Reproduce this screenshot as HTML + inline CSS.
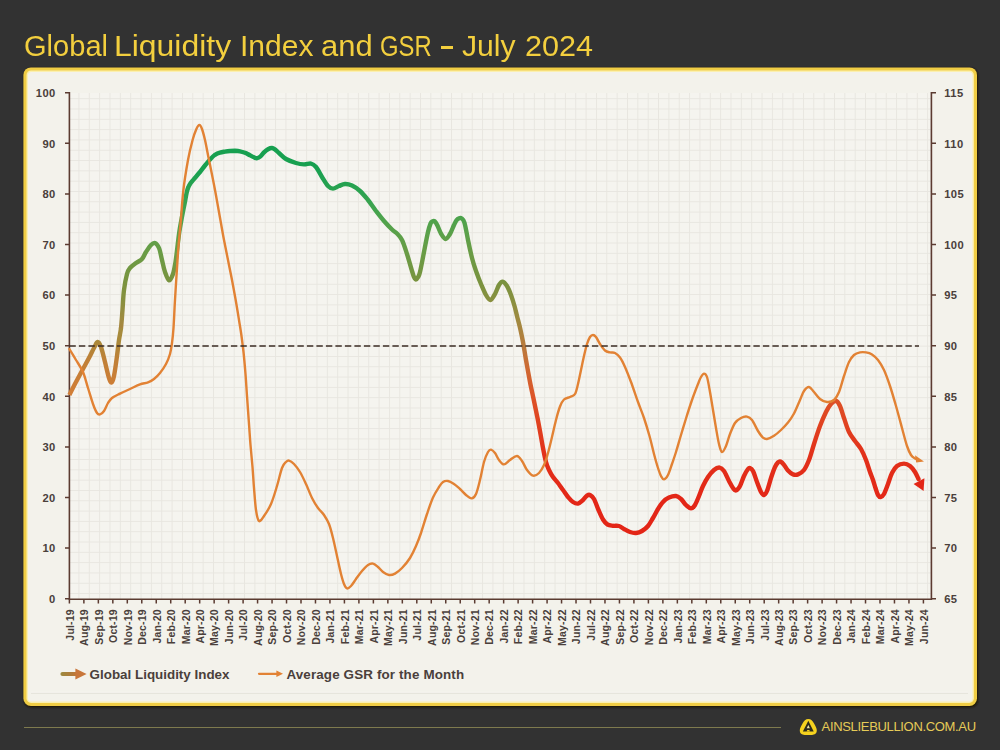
<!DOCTYPE html>
<html><head><meta charset="utf-8"><title>Global Liquidity Index and GSR</title>
<style>
html,body{margin:0;padding:0}
body{width:1000px;height:750px;background:#323232;position:relative;overflow:hidden;font-family:"Liberation Sans",sans-serif}
#title{position:absolute;left:0;top:30px;font-size:28.6px;line-height:32px;color:#f3cf3e;white-space:nowrap}
#title span{position:absolute;top:0;transform-origin:0 0}
#title i{position:absolute;left:440.6px;top:16.4px;width:12px;height:2.4px;background:#f3cf3e}
#fline{position:absolute;left:24px;top:726.8px;width:757px;height:1.4px;background:#7e7a4e}
#brand{position:absolute;left:821.6px;top:719px;font-size:13px;line-height:16px;color:#e6cb58;letter-spacing:-0.33px;white-space:nowrap}
svg{position:absolute;left:0;top:0}
</style></head><body>
<div id="title"><span style="left:23.80px;transform:scaleX(1.0170)">Global</span><span style="left:114.10px;transform:scaleX(1.1168)">Liquidity</span><span style="left:239.80px;transform:scaleX(1.0508)">Index</span><span style="left:321.00px;transform:scaleX(1.0827)">and</span><span style="left:379.75px;transform:scaleX(0.8331)">GSR</span><span style="left:462.00px;transform:scaleX(1.0547)">July</span><span style="left:525.00px;transform:scaleX(1.0694)">2024</span><i></i></div>
<div id="fline"></div>
<svg width="1000" height="750" viewBox="0 0 1000 750">
<filter id="sh" x="-5%" y="-5%" width="110%" height="110%"><feGaussianBlur stdDeviation="0.9"/></filter>
<rect x="24" y="68.2" width="954" height="639" rx="7.5" fill="#1c1606" filter="url(#sh)"/>
<rect x="23.4" y="67.4" width="953.6" height="638.6" rx="7.5" fill="#f0cd45"/>
<rect x="26.5" y="70.5" width="947.4" height="632.4" rx="4.6" fill="#fbf0b0"/>
<rect x="27.9" y="71.9" width="944.6" height="629.6" rx="3.6" fill="#f3f2eb"/>
<path d="M31 692.4H968" stroke="#f8f7f2" stroke-width="1"/>
<path d="M31 693.3H968" stroke="#e3e1d9" stroke-width="1"/>
<defs>
<pattern id="grid" x="68.1" y="87.9" width="10.35" height="10.31" patternUnits="userSpaceOnUse"><path d="M0 0.5H10.35M0.5 0V10.31" stroke="#e8e6e0" stroke-width="1" fill="none"/></pattern>
<linearGradient id="gB" gradientUnits="userSpaceOnUse" x1="0" y1="93" x2="0" y2="599">
<stop offset="0.0000" stop-color="#14a050"/>
<stop offset="0.1522" stop-color="#18a050"/>
<stop offset="0.2016" stop-color="#2ea350"/>
<stop offset="0.2510" stop-color="#4fa34c"/>
<stop offset="0.3103" stop-color="#689d46"/>
<stop offset="0.3696" stop-color="#78933f"/>
<stop offset="0.4091" stop-color="#88903f"/>
<stop offset="0.4486" stop-color="#a08a40"/>
<stop offset="0.5000" stop-color="#b97a3c"/>
<stop offset="0.5474" stop-color="#cf6832"/>
<stop offset="0.5968" stop-color="#dc5529"/>
<stop offset="0.6462" stop-color="#e04421"/>
<stop offset="0.7055" stop-color="#e2331b"/>
<stop offset="0.8043" stop-color="#e32617"/>
<stop offset="1.0000" stop-color="#e32415"/>
</linearGradient>
<linearGradient id="gA" gradientUnits="userSpaceOnUse" x1="0" y1="93" x2="0" y2="599">
<stop offset="0.0000" stop-color="#14a050"/>
<stop offset="0.4091" stop-color="#8c9342"/>
<stop offset="0.4644" stop-color="#a48c3e"/>
<stop offset="0.4921" stop-color="#aa8839"/>
<stop offset="0.5277" stop-color="#c08037"/>
<stop offset="0.5711" stop-color="#cc7e36"/>
<stop offset="0.5968" stop-color="#d17d36"/>
<stop offset="1.0000" stop-color="#d17d36"/>
</linearGradient>
<linearGradient id="gL" gradientUnits="userSpaceOnUse" x1="60" y1="0" x2="80" y2="0"><stop offset="0" stop-color="#9a8a3e"/><stop offset="0.55" stop-color="#b07c3a"/><stop offset="1" stop-color="#cc7434"/></linearGradient>
</defs>
<rect x="70" y="93" width="861" height="506" fill="#f5f4ef"/>
<rect x="70" y="93" width="861" height="506" fill="url(#grid)"/>
<path d="M69.4 92H69.4V599.2H931.4V92" stroke="#5b3b31" stroke-width="1.6" fill="none"/>
<path d="M65 92.7H69.4M931.4 92.7H936M65 143.3H69.4M931.4 143.3H936M65 193.9H69.4M931.4 193.9H936M65 244.5H69.4M931.4 244.5H936M65 295.1H69.4M931.4 295.1H936M65 345.7H69.4M931.4 345.7H936M65 396.3H69.4M931.4 396.3H936M65 446.9H69.4M931.4 446.9H936M65 497.5H69.4M931.4 497.5H936M65 548.1H69.4M931.4 548.1H936M65 598.7H69.4M931.4 598.7H936M69.4 599.2V603.6M83.88 599.2V603.6M98.35 599.2V603.6M112.83 599.2V603.6M127.3 599.2V603.6M141.78 599.2V603.6M156.25 599.2V603.6M170.73 599.2V603.6M185.2 599.2V603.6M199.68 599.2V603.6M214.15 599.2V603.6M228.62 599.2V603.6M243.1 599.2V603.6M257.57 599.2V603.6M272.05 599.2V603.6M286.52 599.2V603.6M301 599.2V603.6M315.48 599.2V603.6M329.95 599.2V603.6M344.42 599.2V603.6M358.9 599.2V603.6M373.38 599.2V603.6M387.85 599.2V603.6M402.33 599.2V603.6M416.8 599.2V603.6M431.27 599.2V603.6M445.75 599.2V603.6M460.23 599.2V603.6M474.7 599.2V603.6M489.17 599.2V603.6M503.65 599.2V603.6M518.12 599.2V603.6M532.6 599.2V603.6M547.08 599.2V603.6M561.55 599.2V603.6M576.02 599.2V603.6M590.5 599.2V603.6M604.97 599.2V603.6M619.45 599.2V603.6M633.92 599.2V603.6M648.4 599.2V603.6M662.88 599.2V603.6M677.35 599.2V603.6M691.82 599.2V603.6M706.3 599.2V603.6M720.77 599.2V603.6M735.25 599.2V603.6M749.72 599.2V603.6M764.2 599.2V603.6M778.67 599.2V603.6M793.15 599.2V603.6M807.62 599.2V603.6M822.1 599.2V603.6M836.57 599.2V603.6M851.05 599.2V603.6M865.52 599.2V603.6M880 599.2V603.6M894.47 599.2V603.6M908.95 599.2V603.6M923.42 599.2V603.6" stroke="#5b3b31" stroke-width="1.5" fill="none"/>
<path d="M121.0 328.0C121.6 323.0 122.0 316.3 122.5 310.0C123.0 303.7 123.2 296.0 124.0 290.0C124.8 284.0 126.0 277.7 127.0 274.0C128.0 270.3 128.5 269.8 130.0 268.0C131.5 266.2 134.0 264.5 136.0 263.0C138.0 261.5 140.3 260.8 142.0 259.0C143.7 257.2 144.5 254.3 146.0 252.0C147.5 249.7 149.5 246.5 151.0 245.0C152.5 243.5 153.7 242.5 155.0 243.0C156.3 243.5 157.8 245.2 159.0 248.0C160.2 250.8 161.0 256.0 162.0 260.0C163.0 264.0 163.8 268.6 165.0 272.0C166.2 275.4 167.7 280.1 169.0 280.4C170.3 280.7 171.9 277.1 173.0 274.0C174.1 270.9 174.8 266.3 175.5 262.0C176.2 257.7 176.7 253.0 177.3 248.0C177.9 243.0 178.6 236.7 179.3 232.0C180.0 227.3 180.7 223.8 181.4 220.0C182.1 216.2 182.8 212.3 183.5 209.0C184.2 205.7 184.8 202.7 185.3 200.0C185.8 197.3 186.1 195.1 186.6 193.0C187.1 190.9 187.5 189.1 188.2 187.5C188.8 185.9 189.6 184.5 190.5 183.2C191.4 181.9 191.9 181.5 193.5 179.6C195.1 177.7 198.1 174.3 200.0 172.0C201.9 169.7 203.3 167.6 205.0 165.5C206.7 163.4 208.3 161.3 210.0 159.5C211.7 157.7 213.3 156.0 215.0 154.8C216.7 153.7 218.3 153.1 220.0 152.6C221.7 152.1 223.3 151.9 225.0 151.6C226.7 151.3 228.3 151.1 230.0 151.0C231.7 150.9 233.3 150.8 235.0 150.8C236.7 150.9 238.3 151.0 240.0 151.3C241.7 151.6 243.3 152.1 245.0 152.8C246.7 153.5 248.5 154.6 250.0 155.3C251.5 156.1 252.8 156.8 254.0 157.3C255.2 157.8 255.9 158.3 257.0 158.2C258.1 158.0 259.3 157.4 260.5 156.4C261.7 155.4 262.8 153.6 264.0 152.4C265.2 151.2 266.7 149.9 268.0 149.2C269.3 148.5 270.8 147.9 272.0 148.0C273.2 148.1 274.3 149.0 275.5 149.8C276.7 150.6 277.2 151.5 279.0 153.0C280.8 154.5 283.2 157.3 286.0 159.0C288.8 160.7 293.0 162.1 296.0 163.0C299.0 163.9 301.5 164.3 304.0 164.4C306.5 164.5 309.0 163.2 311.0 163.6C313.0 164.0 314.2 164.8 316.0 167.0C317.8 169.2 320.0 173.8 322.0 177.0C324.0 180.2 326.2 184.1 328.0 186.0C329.8 187.9 331.2 188.6 333.0 188.6C334.8 188.6 337.0 186.8 339.0 186.0C341.0 185.2 342.8 184.1 345.0 184.0C347.2 183.9 349.5 184.4 352.0 185.6C354.5 186.8 357.3 188.6 360.0 191.0C362.7 193.4 365.3 196.7 368.0 200.0C370.7 203.3 373.3 207.5 376.0 211.0C378.7 214.5 381.3 217.9 384.0 221.0C386.7 224.1 389.8 227.4 392.0 229.5C394.2 231.6 395.3 231.8 397.0 233.5C398.7 235.2 400.3 236.6 402.0 240.0C403.7 243.4 405.3 248.8 407.0 254.0C408.7 259.2 410.8 267.2 412.0 271.0C413.2 274.8 413.3 275.6 414.0 277.0C414.7 278.4 415.3 279.6 416.0 279.6C416.7 279.6 417.3 278.5 418.0 277.2C418.7 275.9 419.0 276.2 420.0 272.0C421.0 267.8 422.7 258.7 424.0 252.0C425.3 245.3 426.9 236.7 428.0 232.0C429.1 227.3 429.8 225.4 430.5 223.6C431.2 221.8 431.8 221.7 432.5 221.3C433.2 220.9 434.0 220.7 434.8 221.3C435.6 222.0 436.3 223.1 437.3 225.2C438.3 227.2 439.6 231.3 441.0 233.6C442.4 235.9 444.1 238.9 445.6 239.0C447.1 239.1 448.6 236.3 450.0 234.0C451.4 231.7 452.9 227.3 454.0 225.0C455.1 222.7 455.7 221.3 456.5 220.2C457.3 219.1 458.1 218.6 459.0 218.3C459.9 218.0 460.7 217.7 461.6 218.4C462.5 219.2 463.4 219.2 464.5 222.8C465.6 226.4 466.8 234.1 468.0 240.0C469.2 245.9 470.7 252.8 472.0 258.0C473.3 263.2 474.5 266.7 476.0 271.0C477.5 275.3 479.3 280.0 481.0 284.0C482.7 288.0 484.4 292.3 486.0 295.0C487.6 297.7 488.9 300.2 490.4 300.0C491.9 299.8 493.6 296.5 495.0 294.0C496.4 291.5 497.7 287.1 499.0 285.0C500.3 282.9 501.3 281.4 502.6 281.6C503.9 281.8 505.6 283.8 507.0 286.0C508.4 288.2 509.8 291.7 511.0 295.0C512.2 298.3 513.4 302.2 514.5 306.0C515.6 309.8 516.5 314.2 517.5 318.0C518.5 321.8 519.4 325.0 520.3 329.0C521.2 333.0 522.0 336.8 523.0 342.0C524.0 347.2 524.8 353.3 526.0 360.0C527.2 366.7 528.7 375.2 530.0 382.0C531.3 388.8 532.8 395.0 534.0 401.0C535.2 407.0 536.4 412.5 537.5 418.0C538.6 423.5 539.6 429.0 540.5 434.0C541.4 439.0 542.1 443.3 543.0 448.0C543.9 452.7 545.0 458.3 546.0 462.0C547.0 465.7 547.8 467.5 549.0 470.0C550.2 472.5 551.5 474.8 553.0 477.0C554.5 479.2 556.3 480.8 558.0 483.0C559.7 485.2 561.3 487.7 563.0 490.0C564.7 492.3 566.3 495.0 568.0 497.0C569.7 499.0 571.3 500.9 573.0 502.0C574.7 503.1 576.3 503.9 578.0 503.6C579.7 503.3 581.5 501.3 583.0 500.0C584.5 498.7 585.8 496.4 587.0 495.6C588.2 494.8 588.8 494.4 590.0 495.0C591.2 495.6 592.6 496.5 594.0 499.0C595.4 501.5 597.0 506.6 598.5 510.0C600.0 513.4 601.5 517.1 603.0 519.5C604.5 521.9 605.8 523.5 607.5 524.5C609.2 525.5 611.1 525.5 613.0 525.8C614.9 526.0 617.2 525.5 619.0 526.0C620.8 526.5 622.2 528.0 624.0 529.0C625.8 530.0 628.0 531.3 630.0 532.0C632.0 532.7 634.0 533.2 636.0 533.0C638.0 532.8 640.0 532.2 642.0 531.0C644.0 529.8 646.2 528.2 648.0 526.0C649.8 523.8 651.3 520.8 653.0 518.0C654.7 515.2 656.3 511.7 658.0 509.0C659.7 506.3 661.2 503.9 663.0 502.0C664.8 500.1 666.8 498.6 669.0 497.6C671.2 496.6 674.0 495.8 676.0 496.0C678.0 496.2 679.3 497.5 681.0 499.0C682.7 500.5 684.3 503.4 686.0 505.0C687.7 506.6 689.5 508.4 691.0 508.4C692.5 508.4 693.7 507.1 695.0 505.0C696.3 502.9 697.7 499.2 699.0 496.0C700.3 492.8 701.5 489.2 703.0 486.0C704.5 482.8 706.2 479.7 708.0 477.0C709.8 474.3 712.1 471.6 714.0 470.0C715.9 468.4 717.9 467.4 719.6 467.6C721.3 467.8 722.4 468.8 724.0 471.0C725.6 473.2 727.5 478.2 729.0 481.0C730.5 483.8 731.8 486.4 733.0 488.0C734.2 489.6 734.8 490.7 736.0 490.4C737.2 490.1 738.7 488.4 740.0 486.0C741.3 483.6 742.7 478.8 744.0 476.0C745.3 473.2 747.0 470.3 748.0 469.0C749.0 467.7 749.2 467.7 750.0 468.0C750.8 468.3 751.8 468.7 753.0 471.0C754.2 473.3 755.7 478.5 757.0 482.0C758.3 485.5 759.8 489.8 761.0 492.0C762.2 494.2 763.0 495.2 764.0 495.0C765.0 494.8 765.8 493.8 767.0 491.0C768.2 488.2 769.7 482.0 771.0 478.0C772.3 474.0 773.8 469.6 775.0 467.0C776.2 464.4 777.1 463.3 778.0 462.4C778.9 461.5 779.6 461.2 780.6 461.6C781.6 462.0 782.8 463.3 784.0 464.8C785.2 466.3 786.5 468.9 788.0 470.5C789.5 472.1 791.3 473.8 793.0 474.4C794.7 475.0 796.2 475.1 798.0 474.4C799.8 473.7 802.2 472.4 804.0 470.0C805.8 467.6 807.3 464.3 809.0 460.0C810.7 455.7 812.2 449.7 814.0 444.0C815.8 438.3 818.0 431.3 820.0 426.0C822.0 420.7 824.2 415.7 826.0 412.0C827.8 408.3 829.3 405.8 831.0 404.0C832.7 402.2 834.5 400.7 836.0 401.0C837.5 401.3 838.7 403.2 840.0 406.0C841.3 408.8 842.5 413.7 844.0 418.0C845.5 422.3 847.2 428.2 849.0 432.0C850.8 435.8 853.0 438.2 855.0 441.0C857.0 443.8 859.2 445.8 861.0 449.0C862.8 452.2 864.5 456.2 866.0 460.0C867.5 463.8 868.8 468.7 870.0 472.0C871.2 475.3 872.1 477.3 873.0 480.0C873.9 482.7 874.7 485.5 875.5 488.0C876.3 490.5 877.1 493.5 878.0 495.0C878.9 496.5 879.6 497.2 880.6 497.0C881.6 496.8 882.8 496.2 884.0 494.0C885.2 491.8 886.7 487.5 888.0 484.0C889.3 480.5 890.5 476.0 892.0 473.0C893.5 470.0 895.0 467.6 897.0 466.0C899.0 464.4 901.8 463.6 904.0 463.6C906.2 463.6 908.2 464.6 910.0 466.0C911.8 467.4 913.6 469.8 915.0 472.0C916.4 474.2 917.9 477.8 918.5 479.0" stroke="url(#gB)" stroke-width="4.4" fill="none" stroke-linecap="round" stroke-linejoin="round"/>
<path d="M69.4 395.0C70.5 392.8 73.7 386.3 76.0 382.0C78.3 377.7 80.7 373.3 83.0 369.0C85.3 364.7 88.2 359.5 90.0 356.0C91.8 352.5 92.7 350.3 94.0 348.0C95.3 345.7 96.4 342.2 97.6 342.0C98.8 341.8 99.8 343.7 101.0 347.0C102.2 350.3 103.7 356.8 105.0 362.0C106.3 367.2 107.9 374.6 109.0 378.0C110.1 381.4 110.8 382.7 111.6 382.4C112.4 382.1 113.1 380.4 114.0 376.0C114.9 371.6 116.2 362.0 117.0 356.0C117.8 350.0 118.3 344.7 119.0 340.0C119.7 335.3 120.4 333.0 121.0 328.0" stroke="url(#gA)" stroke-width="4.4" fill="none" stroke-linecap="butt" stroke-linejoin="round"/>
<path d="M913.6 484L924.4 478.2L923.6 491Z" fill="#e32617"/>
<path d="M69.4 349.0C70.5 350.8 73.7 356.2 76.0 360.0C78.3 363.8 81.0 367.3 83.0 372.0C85.0 376.7 86.3 382.7 88.0 388.0C89.7 393.3 91.5 399.8 93.0 404.0C94.5 408.2 95.8 411.3 97.0 413.0C98.2 414.7 98.8 414.7 100.0 414.4C101.2 414.1 102.7 412.9 104.0 411.0C105.3 409.1 106.7 405.2 108.0 403.0C109.3 400.8 110.0 399.6 112.0 398.0C114.0 396.4 117.0 395.1 120.0 393.6C123.0 392.1 126.7 390.5 130.0 389.0C133.3 387.5 137.0 385.5 140.0 384.4C143.0 383.3 145.7 383.3 148.0 382.4C150.3 381.5 152.0 380.6 154.0 379.0C156.0 377.4 158.0 375.5 160.0 373.0C162.0 370.5 164.3 367.2 166.0 364.0C167.7 360.8 169.0 357.5 170.0 354.0C171.0 350.5 171.4 347.3 172.0 343.0C172.6 338.7 173.0 335.2 173.5 328.0C174.0 320.8 174.4 310.0 175.0 300.0C175.6 290.0 176.4 277.0 177.0 268.0C177.6 259.0 177.9 253.5 178.5 246.0C179.1 238.5 179.8 232.3 180.6 223.0C181.4 213.7 182.2 200.5 183.4 190.0C184.6 179.5 186.5 168.3 188.0 160.0C189.5 151.7 191.2 145.2 192.6 140.0C194.0 134.8 195.3 131.5 196.4 129.0C197.5 126.5 198.5 125.0 199.4 125.0C200.3 125.0 201.1 126.5 202.0 129.0C202.9 131.5 203.8 134.8 205.0 140.0C206.2 145.2 207.3 151.7 209.0 160.0C210.7 168.3 213.1 180.0 215.0 190.0C216.9 200.0 218.9 211.7 220.4 220.0C221.9 228.3 222.7 233.3 224.0 240.0C225.3 246.7 226.7 253.3 228.0 260.0C229.3 266.7 230.8 273.5 232.0 280.0C233.2 286.5 234.3 292.3 235.5 299.0C236.7 305.7 238.0 313.8 239.0 320.0C240.0 326.2 240.8 330.7 241.5 336.0C242.2 341.3 242.8 345.7 243.5 352.0C244.2 358.3 244.9 366.7 245.5 374.0C246.1 381.3 246.4 387.7 247.0 396.0C247.6 404.3 248.4 415.8 249.0 424.0C249.6 432.2 249.9 437.8 250.5 445.0C251.1 452.2 251.9 459.8 252.5 467.0C253.1 474.2 253.4 480.8 254.0 488.0C254.6 495.2 255.2 504.5 256.0 510.0C256.8 515.5 257.7 520.0 259.0 521.0C260.3 522.0 262.0 518.8 264.0 516.0C266.0 513.2 268.8 509.0 271.0 504.0C273.2 499.0 275.2 492.0 277.0 486.0C278.8 480.0 280.5 472.0 282.0 468.0C283.5 464.0 284.8 463.2 286.0 462.0C287.2 460.8 287.7 460.3 289.0 460.6C290.3 460.9 292.2 462.1 294.0 464.0C295.8 465.9 298.0 468.7 300.0 472.0C302.0 475.3 304.0 479.7 306.0 484.0C308.0 488.3 310.0 494.0 312.0 498.0C314.0 502.0 316.0 505.2 318.0 508.0C320.0 510.8 322.2 512.3 324.0 515.0C325.8 517.7 327.5 520.2 329.0 524.0C330.5 527.8 331.7 532.7 333.0 538.0C334.3 543.3 335.7 550.0 337.0 556.0C338.3 562.0 339.8 569.3 341.0 574.0C342.2 578.7 343.0 581.6 344.0 584.0C345.0 586.4 345.8 588.1 347.0 588.4C348.2 588.7 349.5 587.6 351.0 586.0C352.5 584.4 354.2 581.5 356.0 579.0C357.8 576.5 360.0 573.3 362.0 571.0C364.0 568.7 366.2 566.2 368.0 565.0C369.8 563.8 371.3 563.3 373.0 563.6C374.7 563.9 376.3 565.6 378.0 567.0C379.7 568.4 381.2 570.7 383.0 572.0C384.8 573.3 387.0 574.7 389.0 575.0C391.0 575.3 392.8 574.8 395.0 573.6C397.2 572.4 399.5 570.6 402.0 568.0C404.5 565.4 407.7 561.7 410.0 558.0C412.3 554.3 414.2 550.2 416.0 546.0C417.8 541.8 419.2 538.3 421.0 533.0C422.8 527.7 425.0 519.9 427.0 514.0C429.0 508.1 431.0 502.0 433.0 497.5C435.0 493.0 437.3 489.6 439.0 487.0C440.7 484.4 441.5 483.0 443.0 482.0C444.5 481.0 446.2 480.7 448.0 481.0C449.8 481.3 452.0 482.7 454.0 484.0C456.0 485.3 458.0 487.2 460.0 489.0C462.0 490.8 464.1 493.4 466.0 495.0C467.9 496.6 469.9 498.6 471.6 498.4C473.3 498.2 474.6 497.1 476.0 494.0C477.4 490.9 478.7 485.3 480.0 480.0C481.3 474.7 482.7 466.7 484.0 462.0C485.3 457.3 486.8 454.1 488.0 452.0C489.2 449.9 489.8 449.4 491.0 449.6C492.2 449.8 493.7 451.3 495.0 453.0C496.3 454.7 497.5 458.1 499.0 460.0C500.5 461.9 502.2 464.4 504.0 464.4C505.8 464.4 507.8 461.4 510.0 460.0C512.2 458.6 515.0 455.8 517.0 456.0C519.0 456.2 520.3 458.7 522.0 461.0C523.7 463.3 525.2 467.6 527.0 470.0C528.8 472.4 531.0 475.1 533.0 475.6C535.0 476.1 537.2 474.8 539.0 473.0C540.8 471.2 542.5 468.3 544.0 465.0C545.5 461.7 546.7 457.7 548.0 453.0C549.3 448.3 550.7 442.5 552.0 437.0C553.3 431.5 554.7 425.1 556.0 420.0C557.3 414.9 558.7 409.9 560.0 406.5C561.3 403.1 562.3 401.1 564.0 399.5C565.7 397.9 568.2 397.9 570.0 397.0C571.8 396.1 573.7 396.2 575.0 394.0C576.3 391.8 577.0 388.0 578.0 384.0C579.0 380.0 580.0 374.7 581.0 370.0C582.0 365.3 583.0 360.3 584.0 356.0C585.0 351.7 586.0 347.2 587.0 344.0C588.0 340.8 589.0 338.5 590.0 337.0C591.0 335.5 592.0 335.0 593.0 335.0C594.0 335.0 594.8 335.5 596.0 337.0C597.2 338.5 598.5 341.8 600.0 344.0C601.5 346.2 603.3 349.1 605.0 350.5C606.7 351.9 608.3 352.0 610.0 352.4C611.7 352.8 613.3 352.1 615.0 353.0C616.7 353.9 618.3 355.2 620.0 357.5C621.7 359.8 623.2 362.9 625.0 367.0C626.8 371.1 628.8 376.2 631.0 382.0C633.2 387.8 635.8 396.0 638.0 402.0C640.2 408.0 642.1 412.3 644.0 418.0C645.9 423.7 647.8 430.0 649.5 436.0C651.2 442.0 652.6 448.7 654.0 454.0C655.4 459.3 656.8 464.3 658.0 468.0C659.2 471.7 660.0 474.1 661.0 476.0C662.0 477.9 662.8 479.6 664.0 479.4C665.2 479.2 666.7 477.6 668.0 475.0C669.3 472.4 670.7 467.8 672.0 464.0C673.3 460.2 674.5 456.8 676.0 452.0C677.5 447.2 679.3 440.6 681.0 435.0C682.7 429.4 684.2 424.3 686.0 418.5C687.8 412.7 690.0 405.8 692.0 400.0C694.0 394.2 696.5 387.8 698.0 384.0C699.5 380.2 700.0 378.7 701.0 377.0C702.0 375.3 703.0 373.6 704.0 373.6C705.0 373.6 706.0 373.9 707.0 377.0C708.0 380.1 709.0 386.5 710.0 392.0C711.0 397.5 712.0 404.0 713.0 410.0C714.0 416.0 715.0 422.3 716.0 428.0C717.0 433.7 718.0 440.0 719.0 444.0C720.0 448.0 720.8 451.7 722.0 452.0C723.2 452.3 724.7 449.0 726.0 446.0C727.3 443.0 728.5 437.8 730.0 434.0C731.5 430.2 733.2 425.7 735.0 423.0C736.8 420.3 739.0 419.1 741.0 418.0C743.0 416.9 745.2 416.3 747.0 416.6C748.8 416.9 750.2 417.6 752.0 420.0C753.8 422.4 756.2 428.1 758.0 431.0C759.8 433.9 761.5 436.3 763.0 437.6C764.5 438.9 765.2 439.3 767.0 439.0C768.8 438.7 771.7 437.3 774.0 435.8C776.3 434.3 778.7 432.2 781.0 430.0C783.3 427.8 785.8 425.2 788.0 422.5C790.2 419.8 792.0 417.2 794.0 413.5C796.0 409.8 798.3 403.8 800.0 400.0C801.7 396.2 802.5 393.2 804.0 391.0C805.5 388.8 807.3 386.8 809.0 387.0C810.7 387.2 812.2 390.0 814.0 392.0C815.8 394.0 817.8 397.3 820.0 399.0C822.2 400.7 824.7 401.8 827.0 402.0C829.3 402.2 832.0 401.7 834.0 400.0C836.0 398.3 837.3 396.0 839.0 392.0C840.7 388.0 842.3 381.0 844.0 376.0C845.7 371.0 847.3 365.5 849.0 362.0C850.7 358.5 852.2 356.6 854.0 355.0C855.8 353.4 858.0 352.8 860.0 352.4C862.0 352.0 864.0 352.1 866.0 352.4C868.0 352.7 870.0 353.1 872.0 354.4C874.0 355.7 876.0 357.4 878.0 360.0C880.0 362.6 882.0 365.7 884.0 370.0C886.0 374.3 888.0 380.0 890.0 386.0C892.0 392.0 894.0 399.0 896.0 406.0C898.0 413.0 900.2 421.3 902.0 428.0C903.8 434.7 905.5 441.5 907.0 446.0C908.5 450.5 909.7 452.9 911.0 455.0C912.3 457.1 913.8 457.7 915.0 458.5C916.2 459.3 917.5 459.4 918.0 459.6" stroke="#e28234" stroke-width="2.4" fill="none" stroke-linecap="round" stroke-linejoin="round"/>
<path d="M915 455.2L924 461.6L916.2 462.4Z" fill="#e28234"/>
<path d="M69.4 346H919" stroke="#3b2d25" stroke-width="1.7" stroke-dasharray="6.4 3.1" fill="none"/>
<path d="M62.5 674H78" stroke="url(#gL)" stroke-width="4.2" stroke-linecap="round" fill="none"/>
<path d="M75.4 668.6L86.6 674L75.4 679.4Z" fill="#c8763a"/>
<path d="M259 673.8H278" stroke="#e28234" stroke-width="2.2" stroke-linecap="round" fill="none"/>
<path d="M276.4 670.6L283 673.8L276.4 677Z" fill="#e28234"/>
<g font-family="Liberation Sans, sans-serif" font-weight="bold" font-size="10.5" fill="#4a403b">
<text x="55.8" y="97" text-anchor="end" letter-spacing="0.45" font-size="11.2">100</text>
<text x="944.2" y="97" letter-spacing="0.45" font-size="11.2">115</text>
<text x="55.8" y="147.6" text-anchor="end" letter-spacing="0.45" font-size="11.2">90</text>
<text x="944.2" y="147.6" letter-spacing="0.45" font-size="11.2">110</text>
<text x="55.8" y="198.2" text-anchor="end" letter-spacing="0.45" font-size="11.2">80</text>
<text x="944.2" y="198.2" letter-spacing="0.45" font-size="11.2">105</text>
<text x="55.8" y="248.8" text-anchor="end" letter-spacing="0.45" font-size="11.2">70</text>
<text x="944.2" y="248.8" letter-spacing="0.45" font-size="11.2">100</text>
<text x="55.8" y="299.4" text-anchor="end" letter-spacing="0.45" font-size="11.2">60</text>
<text x="944.2" y="299.4" letter-spacing="0.45" font-size="11.2">95</text>
<text x="55.8" y="350" text-anchor="end" letter-spacing="0.45" font-size="11.2">50</text>
<text x="944.2" y="350" letter-spacing="0.45" font-size="11.2">90</text>
<text x="55.8" y="400.6" text-anchor="end" letter-spacing="0.45" font-size="11.2">40</text>
<text x="944.2" y="400.6" letter-spacing="0.45" font-size="11.2">85</text>
<text x="55.8" y="451.2" text-anchor="end" letter-spacing="0.45" font-size="11.2">30</text>
<text x="944.2" y="451.2" letter-spacing="0.45" font-size="11.2">80</text>
<text x="55.8" y="501.8" text-anchor="end" letter-spacing="0.45" font-size="11.2">20</text>
<text x="944.2" y="501.8" letter-spacing="0.45" font-size="11.2">75</text>
<text x="55.8" y="552.4" text-anchor="end" letter-spacing="0.45" font-size="11.2">10</text>
<text x="944.2" y="552.4" letter-spacing="0.45" font-size="11.2">70</text>
<text x="55.8" y="603" text-anchor="end" letter-spacing="0.45" font-size="11.2">0</text>
<text x="944.2" y="603" letter-spacing="0.45" font-size="11.2">65</text>
<text transform="translate(73.7 609.1) rotate(-90)" text-anchor="end" letter-spacing="0.2">Jul-19</text>
<text transform="translate(88.17 609.1) rotate(-90)" text-anchor="end" letter-spacing="0.2">Aug-19</text>
<text transform="translate(102.65 609.1) rotate(-90)" text-anchor="end" letter-spacing="0.2">Sep-19</text>
<text transform="translate(117.12 609.1) rotate(-90)" text-anchor="end" letter-spacing="0.2">Oct-19</text>
<text transform="translate(131.6 609.1) rotate(-90)" text-anchor="end" letter-spacing="0.2">Nov-19</text>
<text transform="translate(146.08 609.1) rotate(-90)" text-anchor="end" letter-spacing="0.2">Dec-19</text>
<text transform="translate(160.55 609.1) rotate(-90)" text-anchor="end" letter-spacing="0.2">Jan-20</text>
<text transform="translate(175.03 609.1) rotate(-90)" text-anchor="end" letter-spacing="0.2">Feb-20</text>
<text transform="translate(189.5 609.1) rotate(-90)" text-anchor="end" letter-spacing="0.2">Mar-20</text>
<text transform="translate(203.98 609.1) rotate(-90)" text-anchor="end" letter-spacing="0.2">Apr-20</text>
<text transform="translate(218.45 609.1) rotate(-90)" text-anchor="end" letter-spacing="0.2">May-20</text>
<text transform="translate(232.93 609.1) rotate(-90)" text-anchor="end" letter-spacing="0.2">Jun-20</text>
<text transform="translate(247.4 609.1) rotate(-90)" text-anchor="end" letter-spacing="0.2">Jul-20</text>
<text transform="translate(261.88 609.1) rotate(-90)" text-anchor="end" letter-spacing="0.2">Aug-20</text>
<text transform="translate(276.35 609.1) rotate(-90)" text-anchor="end" letter-spacing="0.2">Sep-20</text>
<text transform="translate(290.82 609.1) rotate(-90)" text-anchor="end" letter-spacing="0.2">Oct-20</text>
<text transform="translate(305.3 609.1) rotate(-90)" text-anchor="end" letter-spacing="0.2">Nov-20</text>
<text transform="translate(319.78 609.1) rotate(-90)" text-anchor="end" letter-spacing="0.2">Dec-20</text>
<text transform="translate(334.25 609.1) rotate(-90)" text-anchor="end" letter-spacing="0.2">Jan-21</text>
<text transform="translate(348.72 609.1) rotate(-90)" text-anchor="end" letter-spacing="0.2">Feb-21</text>
<text transform="translate(363.2 609.1) rotate(-90)" text-anchor="end" letter-spacing="0.2">Mar-21</text>
<text transform="translate(377.68 609.1) rotate(-90)" text-anchor="end" letter-spacing="0.2">Apr-21</text>
<text transform="translate(392.15 609.1) rotate(-90)" text-anchor="end" letter-spacing="0.2">May-21</text>
<text transform="translate(406.63 609.1) rotate(-90)" text-anchor="end" letter-spacing="0.2">Jun-21</text>
<text transform="translate(421.1 609.1) rotate(-90)" text-anchor="end" letter-spacing="0.2">Jul-21</text>
<text transform="translate(435.57 609.1) rotate(-90)" text-anchor="end" letter-spacing="0.2">Aug-21</text>
<text transform="translate(450.05 609.1) rotate(-90)" text-anchor="end" letter-spacing="0.2">Sep-21</text>
<text transform="translate(464.53 609.1) rotate(-90)" text-anchor="end" letter-spacing="0.2">Oct-21</text>
<text transform="translate(479 609.1) rotate(-90)" text-anchor="end" letter-spacing="0.2">Nov-21</text>
<text transform="translate(493.47 609.1) rotate(-90)" text-anchor="end" letter-spacing="0.2">Dec-21</text>
<text transform="translate(507.95 609.1) rotate(-90)" text-anchor="end" letter-spacing="0.2">Jan-22</text>
<text transform="translate(522.42 609.1) rotate(-90)" text-anchor="end" letter-spacing="0.2">Feb-22</text>
<text transform="translate(536.9 609.1) rotate(-90)" text-anchor="end" letter-spacing="0.2">Mar-22</text>
<text transform="translate(551.38 609.1) rotate(-90)" text-anchor="end" letter-spacing="0.2">Apr-22</text>
<text transform="translate(565.85 609.1) rotate(-90)" text-anchor="end" letter-spacing="0.2">May-22</text>
<text transform="translate(580.32 609.1) rotate(-90)" text-anchor="end" letter-spacing="0.2">Jun-22</text>
<text transform="translate(594.8 609.1) rotate(-90)" text-anchor="end" letter-spacing="0.2">Jul-22</text>
<text transform="translate(609.27 609.1) rotate(-90)" text-anchor="end" letter-spacing="0.2">Aug-22</text>
<text transform="translate(623.75 609.1) rotate(-90)" text-anchor="end" letter-spacing="0.2">Sep-22</text>
<text transform="translate(638.22 609.1) rotate(-90)" text-anchor="end" letter-spacing="0.2">Oct-22</text>
<text transform="translate(652.7 609.1) rotate(-90)" text-anchor="end" letter-spacing="0.2">Nov-22</text>
<text transform="translate(667.17 609.1) rotate(-90)" text-anchor="end" letter-spacing="0.2">Dec-22</text>
<text transform="translate(681.65 609.1) rotate(-90)" text-anchor="end" letter-spacing="0.2">Jan-23</text>
<text transform="translate(696.12 609.1) rotate(-90)" text-anchor="end" letter-spacing="0.2">Feb-23</text>
<text transform="translate(710.6 609.1) rotate(-90)" text-anchor="end" letter-spacing="0.2">Mar-23</text>
<text transform="translate(725.07 609.1) rotate(-90)" text-anchor="end" letter-spacing="0.2">Apr-23</text>
<text transform="translate(739.55 609.1) rotate(-90)" text-anchor="end" letter-spacing="0.2">May-23</text>
<text transform="translate(754.02 609.1) rotate(-90)" text-anchor="end" letter-spacing="0.2">Jun-23</text>
<text transform="translate(768.5 609.1) rotate(-90)" text-anchor="end" letter-spacing="0.2">Jul-23</text>
<text transform="translate(782.97 609.1) rotate(-90)" text-anchor="end" letter-spacing="0.2">Aug-23</text>
<text transform="translate(797.45 609.1) rotate(-90)" text-anchor="end" letter-spacing="0.2">Sep-23</text>
<text transform="translate(811.92 609.1) rotate(-90)" text-anchor="end" letter-spacing="0.2">Oct-23</text>
<text transform="translate(826.4 609.1) rotate(-90)" text-anchor="end" letter-spacing="0.2">Nov-23</text>
<text transform="translate(840.87 609.1) rotate(-90)" text-anchor="end" letter-spacing="0.2">Dec-23</text>
<text transform="translate(855.35 609.1) rotate(-90)" text-anchor="end" letter-spacing="0.2">Jan-24</text>
<text transform="translate(869.82 609.1) rotate(-90)" text-anchor="end" letter-spacing="0.2">Feb-24</text>
<text transform="translate(884.3 609.1) rotate(-90)" text-anchor="end" letter-spacing="0.2">Mar-24</text>
<text transform="translate(898.77 609.1) rotate(-90)" text-anchor="end" letter-spacing="0.2">Apr-24</text>
<text transform="translate(913.25 609.1) rotate(-90)" text-anchor="end" letter-spacing="0.2">May-24</text>
<text transform="translate(927.72 609.1) rotate(-90)" text-anchor="end" letter-spacing="0.2">Jun-24</text>
</g>
<g font-family="Liberation Sans, sans-serif" font-weight="bold" font-size="13.4" fill="#4a403b">
<text x="89.6" y="679">Global Liquidity Index</text>
<text x="286.4" y="679" letter-spacing="0.14">Average GSR for the Month</text>
</g>
<path d="M808.3 719C811 719 812.6 721 814.2 723.8C815.8 726.6 816.8 728.4 816.8 730.6C816.8 733.6 814.6 734.9 812 734.9H804.6C802 734.9 799.8 733.6 799.8 730.6C799.8 728.4 800.8 726.6 802.4 723.8C804 721 805.6 719 808.3 719Z" fill="#f5d21f"/>
<path d="M808.3 720.7L802.9 731.5H813.7Z" fill="#2b2a1c"/>
<path d="M808.3 725L806.7 728.2H809.9Z" fill="#efe6a8"/>
<path d="M806.6 731.5L807.3 730.1H809.3L810 731.5Z" fill="#f5d21f"/>
</svg>
<div id="brand">AINSLIEBULLION.COM.AU</div>
</body></html>
